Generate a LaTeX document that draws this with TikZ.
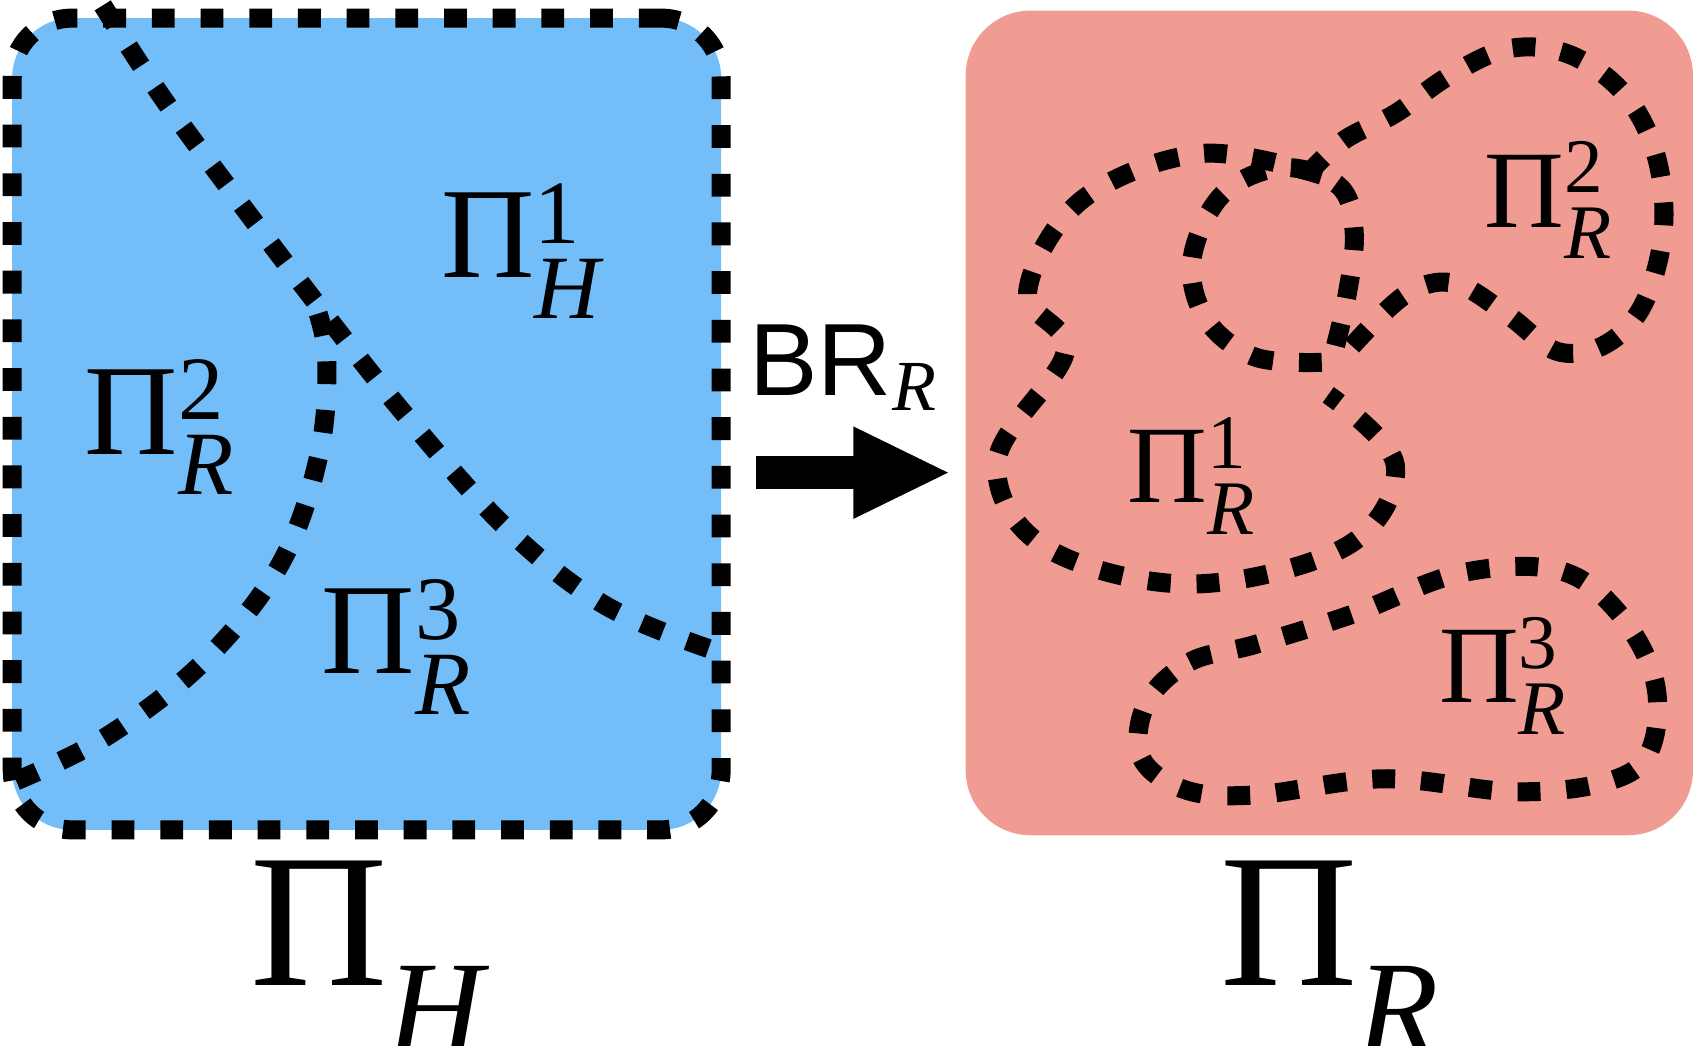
\documentclass[tikz,border=0pt]{standalone}
\usepackage{amsmath}
\usepackage{fontspec}
\newfontfamily\brfont{Liberation Sans}
\newfontfamily\pifont{Liberation Serif}
\usetikzlibrary{arrows.meta}
\definecolor{hblue}{HTML}{73BEF8}
\definecolor{rred}{HTML}{F09C92}
\newcommand{\cell}[2]{{\pifont Π}$^{\text{\pifont #2}}_{\text{\pifont\itshape #1}}$}
\begin{document}
\begin{tikzpicture}[
        x=0.01cm, y=-0.01cm,
        cut/.style={line width=5pt, dash pattern=on 6pt off 6.8pt, line cap=butt},
        hbox/.style={fill=hblue, draw=black, cut, rounded corners=0.55cm,
            minimum width=6.55cm, minimum height=7.5cm, inner sep=0pt},
        rbox/.style={fill=rred, rounded corners=0.6cm,
            minimum width=6.72cm, minimum height=7.62cm, inner sep=0pt},
        part/.style={font=\fontsize{34}{40}\selectfont},
        title/.style={font=\fontsize{50}{60}\selectfont},
        maparrow/.style={-{Triangle[length=0.9cm,width=0.78cm]}, line width=0.3cm,
            shorten <=0.23cm, shorten >=0.13cm},
        ]

        \useasboundingbox (0,0) rectangle (1568,967);

        \node[hbox] (H) at (339,392) {};
        \node[rbox] (R) at (1229,391) {};

        % cuts of Pi_H
        \draw[cut] plot[smooth, tension=0.6] coordinates {(95,5) (150,90) (220,185) (300,290) (380,390) (470,490) (560,560) (662,602)};
        \draw[cut] plot[smooth, tension=0.6] coordinates {(15,722) (100,680) (190,610) (260,520) (295,420) (302,330) (290,278)};

        % cuts of Pi_R
        \draw[cut] plot[smooth, tension=0.6] coordinates {(1222,162) (1110,142) (1000,185) (950,270) (985,325) (922,425) (965,505) (1100,540) (1245,505) (1290,430) (1228,365)};
        \draw[cut] plot[smooth, tension=0.6] coordinates {(1222,335) (1160,330) (1115,295) (1102,240) (1130,180) (1185,155) (1238,172) (1252,215) (1245,275) (1232,330)};
        \draw[cut] plot[smooth, tension=0.6] coordinates {(1250,320) (1300,272) (1345,262) (1395,292) (1440,325) (1485,318) (1520,280) (1538,210) (1530,140) (1500,85) (1450,50) (1395,45) (1340,70) (1290,105) (1242,130) (1205,165)};
        \draw[cut] plot[smooth cycle, tension=0.6] coordinates {(1060,650) (1100,612) (1160,596) (1250,568) (1350,530) (1440,527) (1495,565) (1530,630) (1525,695) (1485,723) (1400,732) (1280,720) (1160,735) (1095,730) (1055,700)};

        % labels
        \node[part] (h1) at (482,232) {\cell{H}{1}};
        \node[part] (h2) at (148,395) {\cell{R}{2}};
        \node[part] (h3) at (367,598) {\cell{R}{3}};
        \node[part, font=\fontsize{29}{34}\selectfont] (r2) at (1432,185) {\cell{R}{2}};
        \node[part, font=\fontsize{29}{34}\selectfont] (r1) at (1102,440) {\cell{R}{1}};
        \node[part, font=\fontsize{29}{34}\selectfont] (r3) at (1390,625) {\cell{R}{3}};
        \node[title] (tH) at (340,885) {\cell{H}{}};
        \node[title] (tR) at (1230,885) {\cell{R}{}};

        % map
        \draw[maparrow] (H.east |- 0,437) -- (R.west |- 0,437);
        \node[font=\brfont\fontsize{27}{32}\selectfont] (br) at (780,340) {BR$_{\text{\pifont\itshape R}}$};

    \end{tikzpicture}
\end{document}
